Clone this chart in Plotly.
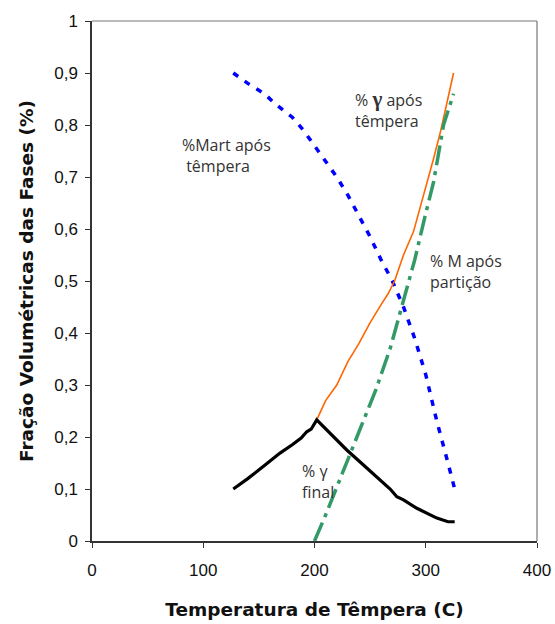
import plotly.graph_objects as go

# %Mart após têmpera (blue dotted)
mart_x = [127, 140, 155, 165, 180, 190, 200, 210, 220, 230, 240, 250, 260, 270, 280, 290, 300, 310, 320, 326]
mart_y = [0.90, 0.88, 0.86, 0.84, 0.815, 0.79, 0.76, 0.73, 0.70, 0.665, 0.625, 0.585, 0.54, 0.50, 0.45, 0.39, 0.32, 0.23, 0.15, 0.10]

# % gamma após têmpera (orange solid)
gq_x = [202, 210, 220, 230, 240, 250, 260, 266, 272, 280, 289, 295, 301, 307, 313, 319, 325]
gq_y = [0.233, 0.27, 0.30, 0.345, 0.38, 0.42, 0.455, 0.475, 0.50, 0.55, 0.595, 0.64, 0.69, 0.735, 0.785, 0.845, 0.90]

# % M após partição (green dash-dot)
mp_x = [200, 210, 225, 240, 255, 268, 280, 290, 300, 307, 316, 325]
mp_y = [0.0, 0.05, 0.13, 0.21, 0.29, 0.37, 0.46, 0.54, 0.63, 0.69, 0.80, 0.86]

# % gamma final (black)
gf_x = [127, 140, 155, 169, 180, 188, 193, 197, 202, 215, 229, 242, 256, 268, 274, 280, 292, 310, 320, 326]
gf_y = [0.10, 0.12, 0.145, 0.169, 0.185, 0.198, 0.21, 0.215, 0.233, 0.205, 0.175, 0.15, 0.123, 0.10, 0.085, 0.079, 0.063, 0.044, 0.037, 0.037]

x_ticks = [0, 100, 200, 300, 400]
y_ticks = [0, 0.1, 0.2, 0.3, 0.4, 0.5, 0.6, 0.7, 0.8, 0.9, 1]
y_labels = ["0", "0,1", "0,2", "0,3", "0,4", "0,5", "0,6", "0,7", "0,8", "0,9", "1"]

fig = go.Figure()
fig.add_trace(go.Scatter(x=mart_x, y=mart_y, mode="lines",
                         line=dict(color="#0000FF", width=3.5, dash="6px,8px")))
fig.add_trace(go.Scatter(x=gq_x, y=gq_y, mode="lines",
                         line=dict(color="#FF6600", width=1.6)))
fig.add_trace(go.Scatter(x=mp_x, y=mp_y, mode="lines",
                         line=dict(color="#339966", width=3.5, dash="20px,6px,4px,6px")))
fig.add_trace(go.Scatter(x=gf_x, y=gf_y, mode="lines",
                         line=dict(color="#000000", width=3.2)))

ann_font = dict(family="Open Sans, Liberation Sans, Arial", size=16, color="#333333")
annos = [
    (79, 0.742, "%Mart após<br> têmpera"),
    (234.5, 0.829, "% <b><span style='font-size:21px;font-family:Liberation Serif'>γ</span></b> após<br>têmpera"),
    (302, 0.519, "% M após<br>partição"),
    (187, 0.115, "% γ<br>final"),
]
for ax_, ay_, t in annos:
    fig.add_annotation(x=ax_, y=ay_, xref="x", yref="y", text=t, showarrow=False,
                       xanchor="left", yanchor="middle", align="left", font=ann_font)

fig.update_layout(
    width=555, height=624,
    margin=dict(l=92, r=18, t=21, b=83),
    paper_bgcolor="white", plot_bgcolor="white",
    showlegend=False,
    font=dict(family="Liberation Sans, Arial", size=17, color="#111111"),
    xaxis=dict(range=[0, 400], tickvals=x_ticks, ticks="outside", ticklen=5,
               tickcolor="#333333", showline=True, linecolor="#333333", linewidth=1.5,
               showgrid=False, zeroline=False, automargin=False,
               tickfont=dict(size=17), ticklabelstandoff=8,
               title=dict(text="<b>Temperatura de Têmpera (C)</b>",
                          font=dict(size=18.5, family="DejaVu Sans"), standoff=24)),
    yaxis=dict(range=[0, 1], tickvals=y_ticks, ticktext=y_labels, ticks="outside", ticklen=5,
               tickcolor="#333333", showline=True, linecolor="#333333", linewidth=1.5,
               showgrid=False, zeroline=False, automargin=False,
               tickfont=dict(size=17), ticklabelstandoff=4,
               title=dict(text="<b>Fração Volumétricas das Fases (%)</b>",
                          font=dict(size=18.5, family="DejaVu Sans"), standoff=16)),
)
fig.add_shape(type="line", xref="paper", yref="paper", x0=0, x1=1, y0=1, y1=1,
              line=dict(color="#777777", width=1.2))
fig.add_shape(type="line", xref="paper", yref="paper", x0=1, x1=1, y0=0, y1=1,
              line=dict(color="#777777", width=1.2))
fig.write_html("out.html")
